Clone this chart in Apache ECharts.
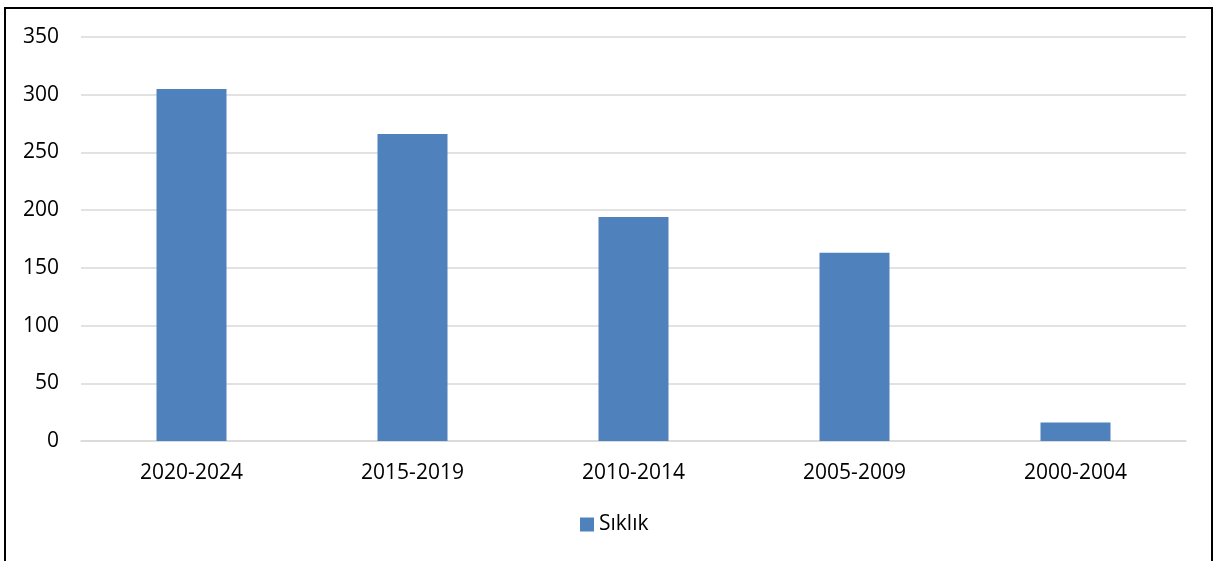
<!DOCTYPE html>
<html>
<head>
<meta charset="utf-8">
<script src="https://cdn.jsdelivr.net/npm/echarts@6/dist/echarts.min.js"></script>
<style>
html,body{margin:0;padding:0;background:#fff;}
#chart{width:1215px;height:561px;}
</style>
</head>
<body>
<div id="chart"></div>
<script>
const categories = ['2020-2024', '2015-2019', '2010-2014', '2005-2009', '2000-2004'];
const values = [305, 266, 194, 163, 16];
const seriesName = 'Sıklık';

const chart = echarts.init(document.getElementById('chart'), null, {renderer: 'canvas'});
const font = '"Open Sans", "Noto Sans", sans-serif';
chart.setOption({
  animation: false,
  backgroundColor: '#ffffff',
  textStyle: {fontFamily: font},
  graphic: [{
    type: 'rect',
    shape: {x: 5, y: 8, width: 1207, height: 600},
    style: {fill: 'none', stroke: '#000000', lineWidth: 2},
    silent: true,
    z: -1
  }],
  grid: {left: 81, right: 29, top: 37, bottom: 120, containLabel: false},
  legend: {
    data: [seriesName],
    bottom: 21,
    left: 575,
    itemWidth: 14,
    itemHeight: 14,
    itemGap: 8,
    icon: 'rect',
    textStyle: {fontFamily: font, fontSize: 21, color: '#000'}
  },
  xAxis: {
    type: 'category',
    data: categories,
    axisLine: {show: true, lineStyle: {color: '#d9d9d9', width: 1.5}},
    axisTick: {show: false},
    axisLabel: {fontFamily: font, fontSize: 21, color: '#000', margin: 22}
  },
  yAxis: {
    type: 'value',
    min: 0,
    max: 350,
    interval: 50,
    axisLine: {show: false},
    axisTick: {show: false},
    splitLine: {lineStyle: {color: '#d9d9d9', width: 1.5}},
    axisLabel: {fontFamily: font, fontSize: 21, color: '#000', margin: 22}
  },
  series: [{
    name: seriesName,
    type: 'bar',
    data: values,
    barWidth: 70,
    itemStyle: {color: '#4F81BD'}
  }]
});
</script>
</body>
</html>
